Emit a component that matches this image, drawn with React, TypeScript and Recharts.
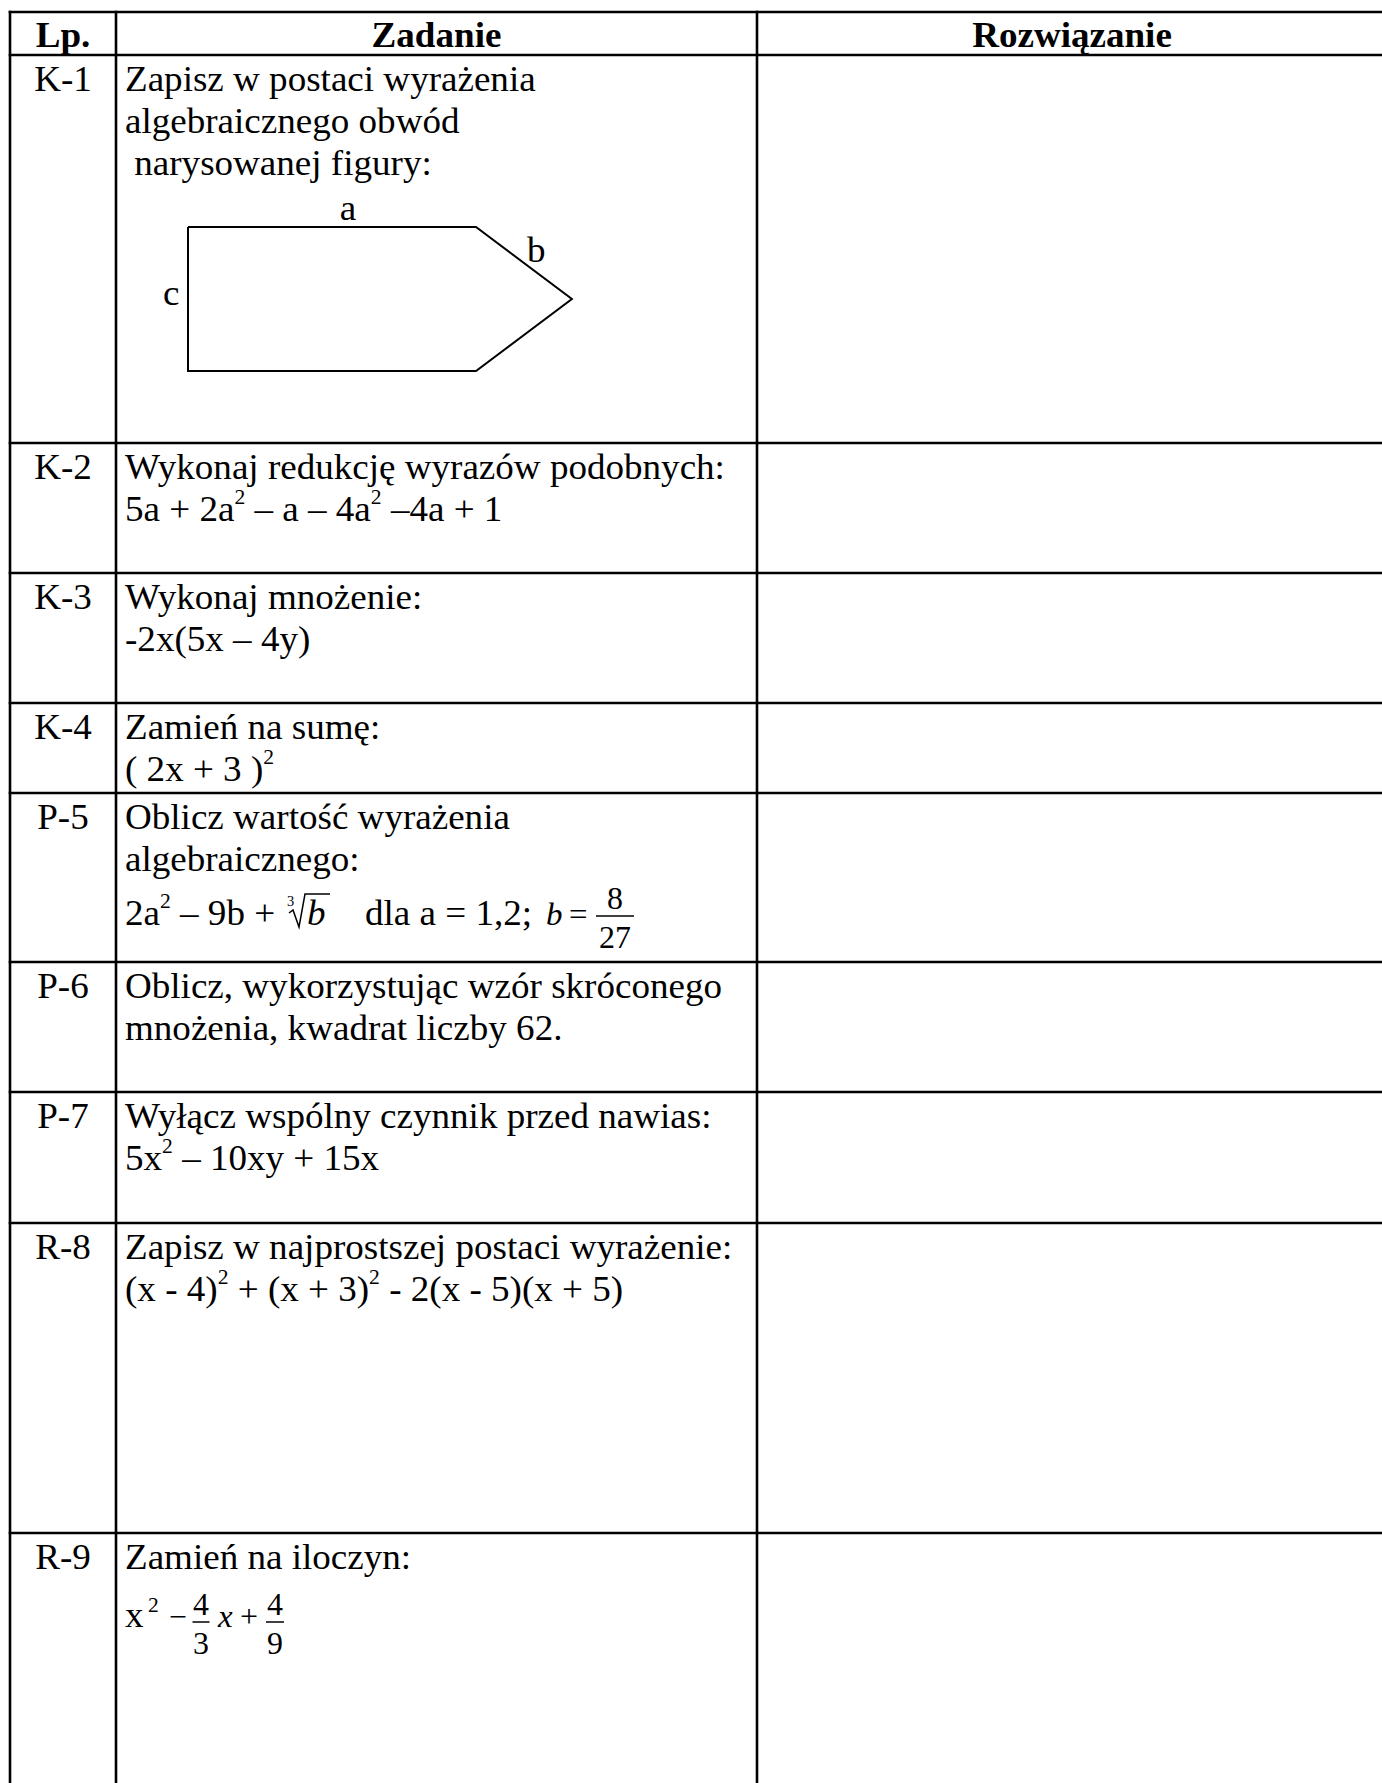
import React from 'react';
import { ComposedChart, Line, XAxis, YAxis, Customized } from 'recharts';

// content of the worksheet
const headers = ['Lp.', 'Zadanie', 'Rozwiązanie'];
const rowLabels = ['K-1', 'K-2', 'K-3', 'K-4', 'P-5', 'P-6', 'P-7', 'R-8', 'R-9'];
const taskLines = [
  ['Zapisz w postaci wyrażenia', 'algebraicznego obwód', ' narysowanej figury:'],
  ['Wykonaj redukcję wyrazów podobnych:', '5a + 2a^2 – a – 4a^2 –4a + 1'],
  ['Wykonaj mnożenie:', '-2x(5x – 4y)'],
  ['Zamień na sumę:', '( 2x + 3 )^2'],
  ['Oblicz wartość wyrażenia', 'algebraicznego:'],
  ['Oblicz, wykorzystując wzór skróconego', 'mnożenia, kwadrat liczby 62.'],
  ['Wyłącz wspólny czynnik przed nawias:', '5x^2 – 10xy + 15x'],
  ['Zapisz w najprostszej postaci wyrażenie:', '(x - 4)^2 + (x + 3)^2 - 2(x - 5)(x + 5)'],
  ['Zamień na iloczyn:'],
];
const figureLabels = ['a', 'b', 'c'];
// pentagon from K-1, in figure units (rectangle 10 x 5 with a pointed end)
const figure = [
  { x: 0, y: 0 },
  { x: 10, y: 0 },
  { x: 13.33, y: 2.5 },
  { x: 10, y: 5 },
  { x: 0, y: 5 },
  { x: 0, y: 0 },
];

// layout
const W = 1382;
const H = 1783;
const colEdges = [10, 116, 757, 1387];
const rowEdges = [12, 55, 443, 573, 703, 793, 962, 1092, 1223, 1533];
const SX = 1.03;
const FS = 36;
const FONT = "'Liberation Serif', 'Times New Roman', serif";
const TEXT_X = 125;
const FIG_PX = 28.8;
const FIG_X0 = 188;
const FIG_Y0 = 227;

type TxtProps = {
  x: number;
  y: number;
  size?: number;
  bold?: boolean;
  italic?: boolean;
  anchor?: 'start' | 'middle' | 'end';
  children: React.ReactNode;
};

const Txt = ({ x, y, size = FS, bold, italic, anchor = 'start', children }: TxtProps) => (
  <text
    transform={`translate(${x} ${y}) scale(${SX} 1)`}
    fontFamily={FONT}
    fontSize={size}
    fontWeight={bold ? 'bold' : 'normal'}
    fontStyle={italic ? 'italic' : 'normal'}
    textAnchor={anchor}
    fill="#000"
    style={{ whiteSpace: 'pre' }}
  >
    {children}
  </text>
);

// "a^2" -> a with superscript 2
const rich = (s: string) =>
  s.split(/\^(\d)/).map((p, i) =>
    i % 2 ? (
      <tspan key={i} fontSize={21} dy={-17}>{p}</tspan>
    ) : (
      <tspan key={i} dy={i > 0 ? 17 : 0}>{p}</tspan>
    )
  );

const Frac = ({ cx, bar, num, den, w }: { cx: number; bar: number; num: string; den: string; w: number }) => (
  <g>
    <Txt x={cx} y={bar - 7} size={31} anchor="middle">{num}</Txt>
    <line x1={cx - w / 2} x2={cx + w / 2} y1={bar} y2={bar} stroke="#000" strokeWidth={1.5} />
    <Txt x={cx} y={bar + 32} size={31} anchor="middle">{den}</Txt>
  </g>
);

const TableLayer = () => {
  const top = rowEdges[0];
  const lw = 2.6;
  return (
    <g>
      <rect x={0} y={0} width={W} height={H} fill="#fff" />
      {rowEdges.map((y, i) => (
        <line key={`h${i}`} x1={colEdges[0] - lw / 2} x2={colEdges[3]} y1={y} y2={y} stroke="#000" strokeWidth={lw} />
      ))}
      {colEdges.map((x, i) => (
        <line key={`v${i}`} x1={x} x2={x} y1={top - lw / 2} y2={H + 5} stroke="#000" strokeWidth={lw} />
      ))}

      <Txt x={(colEdges[0] + colEdges[1]) / 2} y={top + 35} bold anchor="middle">{headers[0]}</Txt>
      <Txt x={(colEdges[1] + colEdges[2]) / 2} y={top + 35} bold anchor="middle">{headers[1]}</Txt>
      <Txt x={(colEdges[2] + colEdges[3]) / 2} y={top + 35} bold anchor="middle">{headers[2]}</Txt>

      {rowLabels.map((lab, r) => {
        const rt = rowEdges[r + 1];
        return (
          <g key={lab}>
            <Txt x={(colEdges[0] + colEdges[1]) / 2} y={rt + 36} anchor="middle">{lab}</Txt>
            {taskLines[r].map((line, j) => (
              <Txt key={j} x={TEXT_X} y={rt + 36 + 42 * j}>{rich(line)}</Txt>
            ))}
          </g>
        );
      })}

      {/* pentagon side labels */}
      <Txt x={348} y={220} anchor="middle">{figureLabels[0]}</Txt>
      <Txt x={527} y={262}>{figureLabels[1]}</Txt>
      <Txt x={163} y={305}>{figureLabels[2]}</Txt>

      {/* P-5 formula */}
      <Txt x={TEXT_X} y={925}>{rich('2a^2 – 9b + ')}</Txt>
      <Txt x={287} y={906} size={14}>3</Txt>
      <path d="M 289 913 L 293 910 L 299 927 L 305 894 L 330 894" fill="none" stroke="#000" strokeWidth={1.5} />
      <Txt x={307} y={925} italic>b</Txt>
      <Txt x={365} y={925}>dla a = 1,2;</Txt>
      <Txt x={546} y={925} size={32} italic>b</Txt>
      <Txt x={569} y={925} size={32}>=</Txt>
      <Frac cx={615} bar={916} num="8" den="27" w={38} />

      {/* R-9 formula */}
      <Txt x={TEXT_X} y={1627}>x</Txt>
      <Txt x={148} y={1612} size={21}>2</Txt>
      <Txt x={169} y={1627} size={31}>−</Txt>
      <Frac cx={201} bar={1622} num="4" den="3" w={17} />
      <Txt x={218} y={1627} size={32} italic>x</Txt>
      <Txt x={240} y={1627} size={31}>+</Txt>
      <Frac cx={275} bar={1622} num="4" den="9" w={18} />
    </g>
  );
};

const App = () => {
  const xDomain = [-FIG_X0 / FIG_PX, (W - FIG_X0) / FIG_PX];
  const yDomain = [-FIG_Y0 / FIG_PX, (H - FIG_Y0) / FIG_PX];
  return (
    <div style={{ position: 'absolute', left: 0, top: 0, width: W, height: H, background: '#fff' }}>
      <ComposedChart width={W} height={H} data={figure} margin={{ top: 0, right: 0, bottom: 0, left: 0 }}>
        <XAxis type="number" dataKey="x" domain={xDomain} allowDataOverflow hide />
        <YAxis type="number" domain={yDomain} allowDataOverflow reversed hide />
        <Customized component={TableLayer} />
        <Line
          type="linear"
          dataKey="y"
          stroke="#000"
          strokeWidth={2}
          dot={false}
          activeDot={false}
          isAnimationActive={false}
        />
      </ComposedChart>
    </div>
  );
};

export default App;
